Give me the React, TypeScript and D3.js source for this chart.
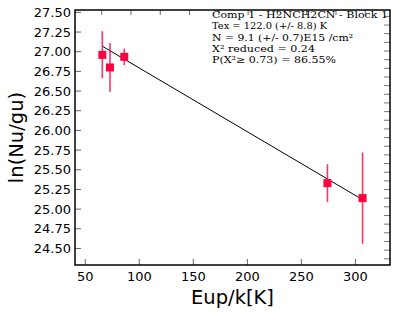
import * as d3 from 'd3';

const eup = [65.8, 72.9, 86.1, 274.1, 306.6];
const lnNu = [26.96, 26.8, 26.935, 25.33, 25.14];
const errLn = [0.3, 0.31, 0.105, 0.24, 0.58];

const fitEup = [65.8, 306.6];
const fitLn = [27.07, 25.12];

const xTicks = [50, 100, 150, 200, 250, 300];
const yTicks = [24.5, 24.75, 25, 25.25, 25.5, 25.75, 26, 26.25, 26.5, 26.75, 27, 27.25, 27.5];

const infoLines = [
  'Comp 1 - H2NCH2CN - Block 1',
  'Tex =  122.0 (+/- 8.8) K',
  'N = 9.1 (+/- 0.7)E15 /cm²',
  'X² reduced = 0.24',
  'P(X²≥ 0.73) = 86.55%',
];
const infoWidths = [176, 115, 141, 103, 124];

const W = 415;
const H = 312;
const M = { left: 75, right: 390, top: 10, bottom: 265 };
const RED = '#ff0040';

export default function App() {
  const x = d3.scaleLinear().domain([40.5, 332]).range([M.left, M.right]);
  const y = d3.scaleLinear().domain([24.29, 27.53]).range([M.bottom, M.top]);

  // secondary (mirrored) tick sets on top and right edges
  const topTicks = d3.range(65.2, 332, 27.1);
  const rightTicks = d3.range(24.369, 27.53, 0.11);

  const line = d3.line<number>().x((_, i) => x(fitEup[i])).y((d) => y(d));

  return (
    <div style={{ position: 'fixed', left: 0, top: 0 }}>
      <svg width={W} height={H} style={{ display: 'block', background: '#fff' }}>
        {/* left ticks + labels */}
        {yTicks.map((t) => (
          <g key={'y' + t}>
            <line x1={M.left} x2={M.left + 6} y1={y(t)} y2={y(t)} stroke="#666" strokeWidth={1} />
            <text x={M.left - 4} y={y(t)} dy="0.36em" textAnchor="end" fontFamily="DejaVu Sans" fontSize={13} fill="#000">
              {t.toFixed(2)}
            </text>
          </g>
        ))}
        {/* bottom ticks + labels */}
        {xTicks.map((t) => (
          <g key={'x' + t}>
            <line x1={x(t)} x2={x(t)} y1={M.bottom} y2={M.bottom - 6} stroke="#666" strokeWidth={1} />
            <text x={x(t)} y={281} textAnchor="middle" fontFamily="DejaVu Sans" fontSize={13} fill="#000">
              {t}
            </text>
          </g>
        ))}
        {topTicks.map((t) => (
          <line key={'t' + t} x1={x(t)} x2={x(t)} y1={M.top} y2={M.top + 5} stroke="#666" strokeWidth={1} />
        ))}
        {rightTicks.map((t) => (
          <line key={'r' + t} x1={M.right} x2={M.right - 6} y1={y(t)} y2={y(t)} stroke="#777" strokeWidth={1} />
        ))}

        {/* frame */}
        <rect x={M.left} y={M.top} width={M.right - M.left} height={M.bottom - M.top} fill="none" stroke="#000" strokeWidth={1.5} />

        {/* fit line */}
        <path d={line(fitLn) || ''} fill="none" stroke="#000" strokeWidth={1} />

        {/* error bars and points */}
        {eup.map((e, i) => (
          <g key={'p' + i}>
            <line x1={x(e)} x2={x(e)} y1={y(lnNu[i] + errLn[i])} y2={y(lnNu[i] - errLn[i])} stroke={RED} strokeWidth={1.6} strokeOpacity={0.8} />
            <rect x={x(e) - 4} y={y(lnNu[i]) - 4} width={8} height={8} fill={RED} />
          </g>
        ))}

        {/* info text */}
        {infoLines.map((s, i) => (
          <text
            key={'i' + i}
            x={212}
            y={18.3 + i * 11.1}
            fontFamily="DejaVu Serif"
            fontSize={9.5}
            textLength={infoWidths[i]}
            lengthAdjust="spacingAndGlyphs"
            fill="#000"
          >
            {s}
          </text>
        ))}

        {/* axis titles */}
        <text x={232.5} y={303.5} textAnchor="middle" fontFamily="DejaVu Sans" fontSize={19.5} fill="#000">
          Eup/k[K]
        </text>
        <text
          transform="translate(23,137.5) rotate(-90)"
          textAnchor="middle"
          fontFamily="DejaVu Sans"
          fontSize={19.5}
          fill="#000"
        >
          ln(Nu/gu)
        </text>
      </svg>
    </div>
  );
}
